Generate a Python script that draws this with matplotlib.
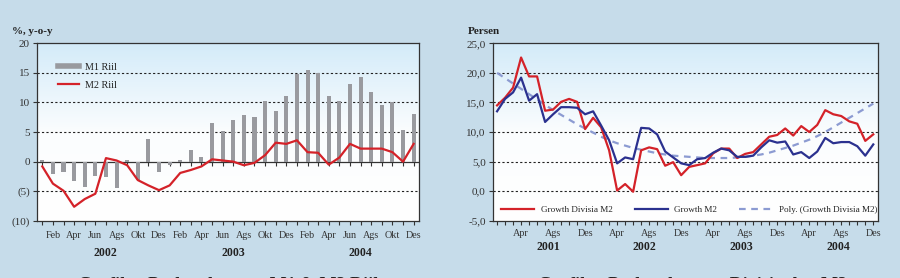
import numpy as np
import matplotlib
matplotlib.use("Agg")
import matplotlib.pyplot as plt
from matplotlib.lines import Line2D
from matplotlib.transforms import blended_transform_factory

# ---------- data: left panel (Jan 2002 - Des 2004) ----------
m1_riil = [0.3, -2.1, -1.7, -3.2, -4.2, -2.4, -2.6, -4.4, 0.3, -3.1, 3.8, -1.7,
           -0.6, 0.3, 1.9, 0.8, 6.6, 5.2, 7.1, 7.9, 7.5, 10.2, 8.5, 11.1,
           14.7, 15.4, 15.0, 11.1, 10.2, 13.1, 14.3, 11.7, 9.6, 10.0, 5.3, 8.1]
m2_riil = [-0.8, -3.7, -4.9, -7.6, -6.3, -5.4, 0.6, 0.2, -0.6, -3.1, -4.0, -4.8,
           -4.0, -1.9, -1.4, -0.8, 0.4, 0.2, 0.0, -0.6, -0.2, 1.1, 3.2, 3.0,
           3.6, 1.6, 1.5, -0.5, 0.7, 3.0, 2.2, 2.2, 2.2, 1.6, 0.0, 3.0]
left_months = ["Feb", "Apr", "Jun", "Ags", "Okt", "Des"]
left_years = ["2002", "2003", "2004"]

# ---------- data: right panel (Jan 2001 - Des 2004) ----------
divisia_m2 = [14.5, 15.8, 17.5, 22.6, 19.4, 19.4, 13.6, 13.8, 15.1, 15.6, 15.1, 10.5,
              12.4, 10.8, 6.9, 0.1, 1.2, -0.1, 6.9, 7.4, 7.1, 4.3, 4.9, 2.7,
              4.1, 4.4, 4.7, 6.4, 7.2, 7.2, 5.6, 6.3, 6.6, 7.9, 9.2, 9.5,
              10.6, 9.4, 11.0, 10.0, 11.2, 13.7, 13.0, 12.7, 11.8, 11.4, 8.5, 9.6]
growth_m2 = [13.5, 15.6, 16.7, 19.2, 15.3, 16.4, 11.7, 13.0, 14.2, 14.2, 14.1, 13.0,
             13.5, 11.1, 8.6, 4.7, 5.7, 5.4, 10.7, 10.6, 9.6, 6.7, 5.7, 4.7,
             4.4, 5.4, 5.6, 6.5, 7.2, 6.9, 5.8, 5.8, 6.0, 7.4, 8.6, 8.2,
             8.4, 6.2, 6.6, 5.6, 6.7, 9.0, 8.1, 8.3, 8.3, 7.6, 6.0, 7.9]
poly_divisia = [20.0, 19.1, 18.2, 17.3, 16.4, 15.5, 14.6, 13.7, 12.9, 12.1, 11.3, 10.6,
                9.9, 9.2, 8.6, 8.1, 7.7, 7.3, 7.0, 6.7, 6.4, 6.2, 6.0, 5.9,
                5.8, 5.7, 5.6, 5.6, 5.6, 5.6, 5.7, 5.8, 6.0, 6.2, 6.5, 6.9,
                7.3, 7.7, 8.2, 8.7, 9.3, 10.0, 10.8, 11.6, 12.4, 13.2, 14.0, 14.8]
right_months = ["Apr", "Ags", "Des"]
right_years = ["2001", "2002", "2003", "2004"]

# ---------- style ----------
BG = "#c6dcea"
RED = "#d42229"
NAVY = "#2b318f"
GRAY = "#999a9f"
POLY = "#8c9bd2"
plt.rcParams["font.family"] = ["Liberation Serif", "DejaVu Serif"]
plt.rcParams["font.size"] = 8
plt.rcParams["axes.edgecolor"] = "#333333"
plt.rcParams["xtick.color"] = "#333333"
plt.rcParams["ytick.color"] = "#333333"
plt.rcParams["text.color"] = "#222222"

fig = plt.figure(figsize=(9, 2.78), dpi=100, facecolor=BG)
ax1 = fig.add_axes([0.0411, 0.2050, 0.4244, 0.6403])
ax2 = fig.add_axes([0.5474, 0.2061, 0.4278, 0.6381])

grad = np.linspace(0, 1, 256).reshape(-1, 1)
cmap = matplotlib.colors.LinearSegmentedColormap.from_list("bg", ["#ffffff", "#fbfdfe", "#d3ebf9"])
for ax in (ax1, ax2):
    ax.imshow(grad, extent=[0, 1, 0, 1], transform=ax.transAxes, aspect="auto",
              cmap=cmap, origin="lower", zorder=0)
    ax.set_facecolor("none")
    for s in ax.spines.values():
        s.set_linewidth(0.9)
    ax.tick_params(which="both", direction="out", length=3, width=0.8, pad=2)
    ax.tick_params(axis="x", which="major", labelsize=7.3)

# ---------- left panel ----------
x1 = np.arange(len(m1_riil))
ax1.bar(x1, m1_riil, width=0.38, color=GRAY, zorder=2)
ax1.plot(x1, m2_riil, color=RED, lw=1.6, zorder=3)
ax1.set_xlim(-0.5, 35.5)
ax1.set_ylim(-10, 20)
ax1.set_yticks([-10, -5, 0, 5, 10, 15, 20])
ax1.set_yticklabels(["(10)", "(5)", "0", "5", "10", "15", "20"])
for v in [-5, 5, 10, 15]:
    ax1.axhline(v, color="#222222", lw=0.8, ls=(0, (2, 2)), zorder=1)
ax1.axhline(0, color="#333333", lw=0.9, zorder=1)
ax1.set_xticks(x1[1::2])
ax1.set_xticklabels(left_months * 3)
ax1.set_xticks(x1, minor=True)
ax1.tick_params(axis="x", which="major", pad=4)
# ticks along the zero line
zero_ax = ax1.secondary_xaxis(1 / 3)
zero_ax.xaxis.set_ticks_position("bottom")
zero_ax.set_xticks(x1)
zero_ax.set_xticklabels([])
zero_ax.tick_params(direction="out", length=3, width=0.8, color="#333333")
zero_ax.spines["bottom"].set_visible(False)
zero_ax.spines["top"].set_visible(False)
tr1 = blended_transform_factory(ax1.transData, ax1.transAxes)
for xc, yr in zip([5.9, 18, 30], left_years):
    ax1.text(xc, -0.18, yr, transform=tr1, ha="center", va="center",
             fontsize=8.5, fontweight="bold")
fig.text(0.013, 0.885, "%, y-o-y", fontsize=8, fontweight="bold", va="center")
h1 = [Line2D([], [], color=GRAY, lw=4), Line2D([], [], color=RED, lw=1.6)]
ax1.legend(h1, ["M1 Riil", "M2 Riil"], loc="upper left", bbox_to_anchor=(0.03, 0.94),
           frameon=False, fontsize=7.3, handlelength=2.1, labelspacing=0.85,
           handletextpad=0.6)

# ---------- right panel ----------
x2 = np.arange(len(divisia_m2))
ax2.plot(x2, poly_divisia, color=POLY, lw=1.6, ls=(0, (3, 2.5)), zorder=2)
ax2.plot(x2, divisia_m2, color=RED, lw=1.6, zorder=3)
ax2.plot(x2, growth_m2, color=NAVY, lw=1.6, zorder=3)
ax2.set_xlim(-0.55, 47.55)
ax2.set_ylim(-5, 25)
ax2.set_yticks([-5, 0, 5, 10, 15, 20, 25])
ax2.set_yticklabels(["-5,0", "0,0", "5,0", "10,0", "15,0", "20,0", "25,0"])
for v in [0, 5, 10, 15, 20]:
    ax2.axhline(v, color="#222222", lw=0.8, ls=(0, (2, 2)), zorder=1)
ax2.set_xticks(x2[3::4])
ax2.set_xticklabels(right_months * 4)
ax2.set_xticks(x2, minor=True)
ax2.tick_params(axis="x", which="major", pad=3)
tr2 = blended_transform_factory(ax2.transData, ax2.transAxes)
for xc, yr in zip([6.4, 18.4, 30.5, 42.6], right_years):
    ax2.text(xc, -0.148, yr, transform=tr2, ha="center", va="center",
             fontsize=8.5, fontweight="bold")
fig.text(0.520, 0.885, "Persen", fontsize=8, fontweight="bold", va="center")
h2 = [Line2D([], [], color=RED, lw=1.6), Line2D([], [], color=NAVY, lw=1.6),
      Line2D([], [], color=POLY, lw=1.6, ls=(0, (3, 2.5)))]
ax2.legend(h2, ["Growth Divisia M2", "Growth M2", "Poly. (Growth Divisia M2)"],
           loc="lower left", bbox_to_anchor=(0.0, -0.01), ncol=3, frameon=False,
           fontsize=6.6, handlelength=3.6, columnspacing=2.4, handletextpad=0.75)

# ---------- panel captions (cut at the lower edge, as in the source) ----------
fig.text(0.254, -0.028, "Grafik    Perkembangan M1 & M2 Riil", ha="center",
         va="center", fontsize=13, fontweight="bold")
fig.text(0.77, -0.028, "Grafik    Perkembangan Divisia dan M2", ha="center",
         va="center", fontsize=13, fontweight="bold")

fig.savefig("out.png", dpi=100, facecolor=BG)
